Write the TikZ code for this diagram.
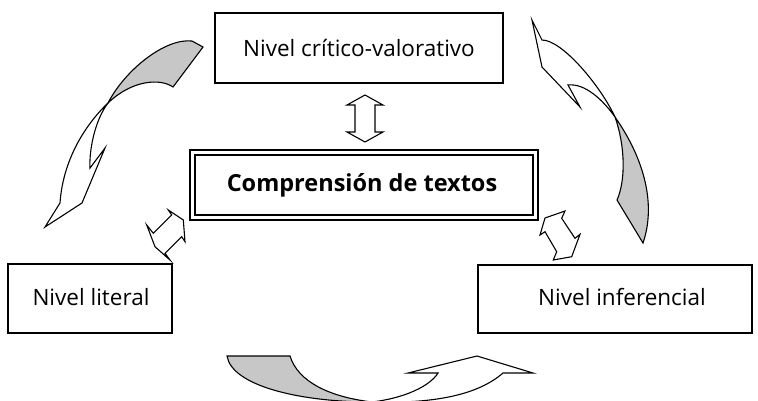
\documentclass[tikz,border=0pt]{standalone}
\usepackage{fontspec}
\setmainfont{Open Sans}
\begin{document}
\begin{tikzpicture}[x=1pt,y=-1pt,
  levelbox/.style={draw=black,line width=1.3pt,fill=white},
  lbl/.style={font=\fontsize{22.5}{26}\selectfont,inner sep=0pt},
  clbl/.style={font=\fontsize{23.5}{28}\selectfont\bfseries,inner sep=0pt},
  band/.style={draw=black,line width=1.1pt,line join=miter},
  back/.style={band,fill=black!22},
  front/.style={band,fill=white},
  dbl/.style={draw=black,line width=1.1pt,fill=white,line join=miter}]
\useasboundingbox (0,0) rectangle (758,400);
\clip (0,0) rectangle (758,400);

% boxes
\draw[levelbox] (215,13) rectangle (503,83);
\node[lbl] (critico) at (359,48) {Nivel crítico-valorativo};
\draw[levelbox] (8,264) rectangle (172,333);
\node[lbl] (literal) at (91,297) {Nivel literal};
\draw[levelbox] (478,265) rectangle (752,333);
\node[lbl] (inferencial) at (622,297) {Nivel inferencial};
\draw[draw=black,line width=1.6pt] (190,150) rectangle (538,220);
\draw[draw=black,line width=1.2pt] (195,155) rectangle (533,215);
\node[clbl] (comp) at (362,185) {Comprensión de textos};

% top-left curved arrow
\coordinate (x1) at (108,103);
\draw[back] (x1) .. controls (125,70) and (165,38) .. (192,41) -- (203,47) -- (173,87)
  .. controls (160,78) and (132,80) .. (x1) -- cycle;
\draw[front] (x1) .. controls (85,125) and (63,160) .. (60,203) -- (45,227) -- (82,203)
  -- (105,148) -- (90,168) .. controls (89,150) and (95,120) .. (x1) -- cycle;

% top-right curved arrow
\coordinate (x2) at (615,117);
\draw[front] (542,40) -- (532,20) -- (542,67) -- (580,107) -- (568,85)
  .. controls (585,83) and (603,100) .. (x2) .. controls (600,85) and (562,40) .. (542,40) -- cycle;
\draw[back] (x2) .. controls (625,145) and (626,180) .. (617,200) -- (643,243)
  .. controls (656,205) and (645,160) .. (x2) -- cycle;

% bottom curved arrow
\coordinate (x3) at (372,402);
\draw[back] (227,356) -- (290,356) .. controls (298,382) and (330,397) .. (x3)
  .. controls (300,402) and (232,386) .. (227,356) -- cycle;
\draw[front] (x3) .. controls (405,398) and (430,386) .. (438,373) -- (408,373) -- (477,356)
  -- (533,373) -- (503,373) .. controls (480,393) and (440,404) .. (x3) -- cycle;

% small double arrows
\draw[dbl] (365,95) -- (383,105) -- (375,105) -- (375,132) -- (383,132) -- (365,142)
  -- (347,132) -- (355,132) -- (355,105) -- (347,105) -- cycle;
\draw[dbl] (171.7,215) -- (168.3,210) -- (183.3,220) -- (185,241.7) -- (181.7,236.7)
  -- (165,253.3) -- (170,260) -- (155,246.7) -- (146.7,225) -- (153.3,233.3) -- cycle;
\draw[dbl] (545,218) -- (565,211) -- (561.7,218.3) -- (575,238.3) -- (580,234.3)
  -- (571.7,256.7) -- (553.3,260) -- (556.7,251.7) -- (545,231.7) -- (540,235) -- cycle;
\end{tikzpicture}
\end{document}
